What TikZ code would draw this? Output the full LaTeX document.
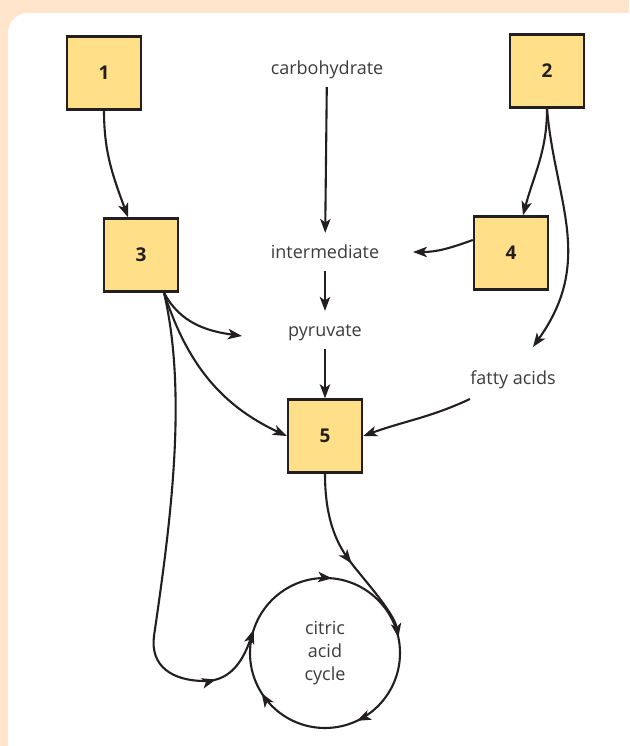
\documentclass[tikz,border=0pt]{standalone}
\usepackage{fontspec}
\setmainfont{Open Sans}
\usepackage{tikz}
\usetikzlibrary{arrows.meta}
\usetikzlibrary{decorations.markings}
\definecolor{framepeach}{RGB}{254,229,203}
\definecolor{boxyellow}{RGB}{255,224,136}
\definecolor{inkgrey}{RGB}{35,31,32}
\definecolor{labelgrey}{RGB}{60,59,61}

\tikzset{midarrow/.style={postaction={decorate},
    decoration={markings, mark=at position #1 with {\arrow{>}}}}}

\begin{document}
\begin{tikzpicture}[x=0.5pt, y=0.5pt, >={Stealth[length=7pt,width=5.2pt,inset=1.8pt]}]
% frame and panel
\fill[framepeach] (0,0) rectangle (629,746);
\begin{scope}
    \clip (0,0) rectangle (629,746);
    \fill[white, rounded corners=10pt] (8,733) rectangle (680,-40);
\end{scope}

\begin{scope}[every node/.style={fill=boxyellow, draw=inkgrey, line width=1.2pt,
              minimum width=37pt, minimum height=36.5pt, text=inkgrey,
              font=\bfseries\fontsize{9.5}{11}\selectfont}]
    \node (B1) at (104,673) {1};
    \node (B2) at (547,675) {2};
    \node (B3) at (141,491) {3};
    \node (B4) at (511,493) {4};
    \node (B5) at (325,310) {5};
\end{scope}

\begin{scope}[every node/.style={text=labelgrey, inner sep=4pt, text height=1.6ex,
              text depth=.4ex, font=\fontsize{9}{11}\selectfont}]
    \node (carb) at (327,678) {carbohydrate};
    \node (inter) at (325,494) {intermediate};
    \node (pyr) at (325,416) {pyruvate};
    \node (fatty) at (513,368) {fatty acids};
\end{scope}
\node[circle, minimum size=75pt, inner sep=0pt, outer sep=0pt, align=center,
      text=labelgrey, font=\fontsize{9}{11.5}\selectfont] (tca) at (325,93) {citric\\acid\\cycle};

\begin{scope}[every edge/.style={draw=inkgrey, line width=1.05pt}, draw=inkgrey, line width=1.05pt]
    \path [->] (B1.south) edge[out=-90, in=110] ([xshift=-6.5pt]B3.north);
    \path [->] (carb) edge (inter);
    \path [->] (inter) edge (pyr);
    \path [->] (pyr) edge (B5);
    \path [->] (B2.south) edge[out=-90, in=75] ([xshift=6pt]B4.north);
    \path [->] ([yshift=6.5pt]B4.west) edge[out=200, in=0] ([xshift=44pt]inter.center);
    \path [->] ([shift={(-43,-21)}]fatty.center) edge[out=205, in=20] (B5.east);
    \path [->] ([xshift=11.5pt]B3.south) edge[out=-62, in=172] ([shift={(-83,-6)}]pyr.center);
    \path [->] ([xshift=11.5pt]B3.south) edge[out=-72, in=155] (B5.west);

    % 2 to fatty acids, swinging out to the right
    \draw [->] (B2.south) .. controls +(8,-93) and +(62,87) .. ([shift={(20,31)}]fatty.center);

    % long way round from 3 into the cycle
    \draw [->, midarrow=0.87] ([xshift=11.5pt]B3.south) .. controls (188,350) and (170,220) .. (154,110)
        .. controls (150,80) and (172,65) .. (205,65)
        .. controls (232,65) and (244,88) .. (tca.162);

    % 5 into the cycle
    \draw [->, midarrow=0.52] (B5.south) .. controls (325,230) and (335,205) .. (349,186)
        .. controls (361,169.5) and (394,134) .. (tca.12);

    % the cycle itself, clockwise
    \draw [postaction={decorate}, decoration={markings,
            mark=at position .265 with {\arrow{>}},
            mark=at position .68 with {\arrow{>}},
            mark=at position .91 with {\arrow{>}}}]
        (tca.180) arc[start angle=180, end angle=-180, radius=37.5pt];
\end{scope}
\end{tikzpicture}
\end{document}
